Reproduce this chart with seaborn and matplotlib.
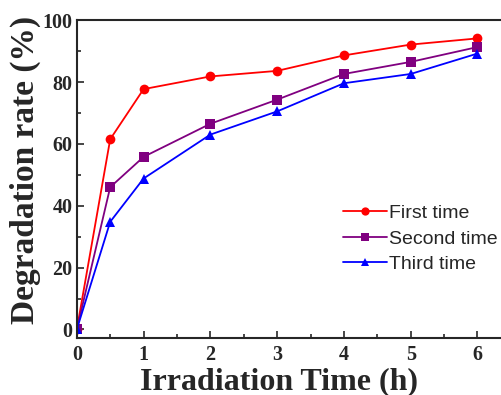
import matplotlib
matplotlib.use('Agg')
import matplotlib.pyplot as plt
from matplotlib.ticker import MultipleLocator
from matplotlib.font_manager import FontProperties
import seaborn as sns
import pandas as pd

TIME_H = [0, 0.5, 1, 2, 3, 4, 5, 6]
FIRST = [0, 61.5, 77.7, 81.8, 83.6, 88.6, 92.1, 94.1]
SECOND = [0, 46.0, 55.8, 66.5, 74.3, 82.6, 86.5, 91.3]
THIRD = [0, 34.8, 48.8, 63.0, 70.5, 79.6, 82.6, 89.2]
RUNS = ['First time', 'Second time', 'Third time']

COLORS = {'First time': 'red', 'Second time': 'purple', 'Third time': 'blue'}
MARKERS = {'First time': 'o', 'Second time': 's', 'Third time': '^'}

sns.set_style('ticks')

df = pd.concat([pd.DataFrame({'time': TIME_H, 'rate': vals, 'run': name})
                for name, vals in zip(RUNS, [FIRST, SECOND, THIRD])],
               ignore_index=True)

fig = plt.figure(figsize=(5.02, 3.95), dpi=100)
ax = fig.add_axes([0.153, 0.144, 0.858, 0.805])

sns.lineplot(data=df, x='time', y='rate', hue='run', style='run',
             palette=COLORS, markers=MARKERS, dashes=False, markersize=7,
             markeredgewidth=0, linewidth=1.3, ax=ax)

ax.set_xlim(0, 6.45)
ax.set_ylim(-2.8, 100)
ax.xaxis.set_major_locator(MultipleLocator(1))
ax.xaxis.set_minor_locator(MultipleLocator(0.5))
ax.yaxis.set_major_locator(MultipleLocator(20))
ax.yaxis.set_minor_locator(MultipleLocator(10))
ax.tick_params(which='both', direction='in', width=1.2)
ax.tick_params(which='major', length=5, pad=3)
ax.tick_params(which='minor', length=3)
ax.tick_params(axis='x', which='major', pad=5)
for sp in ax.spines.values():
    sp.set_linewidth(1.5)

serif = {'family': 'Liberation Serif', 'weight': 'bold'}
for lbl in ax.get_xticklabels() + ax.get_yticklabels():
    lbl.set_fontproperties(FontProperties(size=14.5, **serif))
ax.set_xlabel('Irradiation Time (h)', fontsize=23, **serif)
ax.set_ylabel('Degradation rate (%)', fontsize=24, **serif)
ax.xaxis.set_label_coords(0.469, -0.09)
ax.yaxis.set_label_coords(-0.082, 0.53)

ax.legend(title=None, loc='upper left', bbox_to_anchor=(0.617, 0.42),
          frameon=False, prop={'family': 'Liberation Sans', 'size': 14},
          handlelength=2.3, handletextpad=0.1, labelspacing=0.4,
          markerscale=0.85, borderaxespad=0, borderpad=0)

plt.savefig('out.png', dpi=100)
